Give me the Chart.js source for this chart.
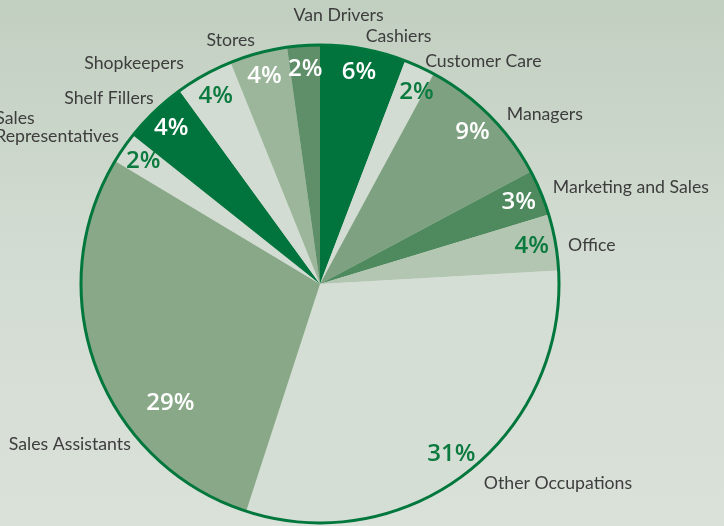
<!DOCTYPE html>
<html>
<head>
<meta charset="utf-8">
<script src="https://cdn.jsdelivr.net/npm/chart.js@4.4.1/dist/chart.umd.min.js"></script>
<style>
  html, body { margin: 0; padding: 0; }
  body {
    width: 724px; height: 526px; overflow: hidden;
    background: linear-gradient(to bottom, #c1cfc0 0%, #d2dbd1 45%, #dae1d9 100%);
  }
  canvas { display: block; }
</style>
</head>
<body>
<canvas id="pie-chart" width="724" height="526"></canvas>
<script>
const categories = [
  'Cashiers', 'Customer Care', 'Managers', 'Marketing and Sales', 'Office',
  'Other Occupations', 'Sales Assistants', 'Sales Representatives',
  'Shelf Fillers', 'Shopkeepers', 'Stores', 'Van Drivers',
];
const shares = [5.8, 2.1, 9.3, 3.1, 3.8, 30.9, 28.6, 2.1, 4.3, 3.9, 3.9, 2.2];
const sliceColors = [
  '#00743c', '#d2dcd2', '#7ea281', '#4f8a5e', '#b2c6b1',
  '#d5ded5', '#88a888', '#d2dcd2', '#00743c', '#d2dcd2', '#9bb69b', '#5e8f69',
];

// small nudges for the text around the pie (px, degrees)
const labelTweaks = {
  'Van Drivers': { dx: 36, dy: -17 },
  'Customer Care': { dy: 6, pshift: 2 },
  'Managers': { dx: 8, dy: 8 },
  'Office': { dy: 5 },
  'Other Occupations': { dx: 10 },
  'Sales Assistants': { shift: -18, pctR: 0.8, dx: 8, dy: 3 },
  'Sales Representatives': { dx: 6, dy: -13, lines: ['Sales', 'Representatives'] },
  'Shelf Fillers': { dx: 8, dy: -4 },
  'Shopkeepers': { dx: -14 },
};

function isLight(hex) {
  const n = parseInt(hex.slice(1), 16);
  const r = n >> 16, g = (n >> 8) & 255, b = n & 255;
  return (0.299 * r + 0.587 * g + 0.114 * b) / 255 > 0.72;
}

const pieLabels = {
  id: 'pieLabels',
  afterDatasetsDraw(chart) {
    const ctx = chart.ctx;
    const arcs = chart.getDatasetMeta(0).data;
    const cx = arcs[0].x, cy = arcs[0].y, R = arcs[0].outerRadius;
    ctx.save();
    // outer ring only, no lines between slices
    ctx.beginPath();
    ctx.arc(cx, cy, R, 0, Math.PI * 2);
    ctx.strokeStyle = '#00773c';
    ctx.lineWidth = 3;
    ctx.stroke();

    arcs.forEach((arc, i) => {
      const t = labelTweaks[categories[i]] || {};
      const mid = (arc.startAngle + arc.endAngle) / 2 + (t.shift || 0) * Math.PI / 180;
      const cos = Math.cos(mid), sin = Math.sin(mid);

      const pm = mid + (t.pshift || 0) * Math.PI / 180;
      const pr = R * (t.pctR || 0.9);
      ctx.font = '600 24px "Open Sans"';
      ctx.textAlign = 'center';
      ctx.textBaseline = 'middle';
      ctx.fillStyle = isLight(sliceColors[i]) ? '#0b7a3e' : '#ffffff';
      ctx.fillText(Math.round(shares[i]) + '%', cx + Math.cos(pm) * pr, cy + Math.sin(pm) * pr);

      const ax = cx + cos * (R + 13) + (t.dx || 0);
      const ay = cy + sin * (R + 13) + (t.dy || 0);
      const lines = t.lines || [categories[i]];
      ctx.font = '17.7px Lato';
      ctx.fillStyle = '#3d3d3d';
      ctx.textAlign = 'left';
      const w = Math.max(...lines.map(l => ctx.measureText(l).width));
      let left;
      if (cos > 0.15) left = ax;
      else if (cos < -0.15) left = ax - w;
      else left = ax - w / 2;
      const lh = 18;
      lines.forEach((l, k) => {
        const lw = ctx.measureText(l).width;
        const x = lines.length > 1 ? left : left + (w - lw) / 2;
        ctx.fillText(l, x, ay + (k - (lines.length - 1) / 2) * lh);
      });
    });
    ctx.restore();
  }
};

new Chart(document.getElementById('pie-chart'), {
  type: 'pie',
  data: {
    labels: categories,
    datasets: [{
      data: shares,
      backgroundColor: sliceColors,
      borderWidth: 0,
    }],
  },
  options: {
    responsive: false,
    animation: false,
    layout: { padding: { left: 0, right: 84, top: 45, bottom: 3 } },
    plugins: {
      legend: { display: false },
      tooltip: { enabled: false },
    },
  },
  plugins: [pieLabels],
});
</script>
</body>
</html>
